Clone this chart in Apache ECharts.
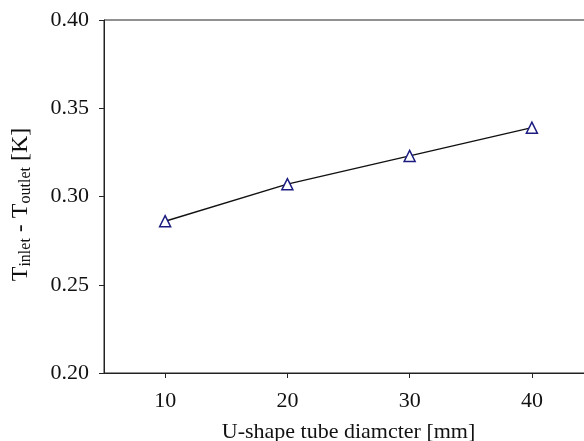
<!DOCTYPE html>
<html>
<head>
<meta charset="utf-8">
<script src="https://cdn.jsdelivr.net/npm/echarts@6/dist/echarts.min.js"></script>
<style>
html,body{margin:0;padding:0;background:#fff;overflow:hidden;}
#chart{width:584px;height:441px;}
</style>
</head>
<body>
<div id="chart"></div>
<script>
var diameters = [10, 20, 30, 40];
var deltaT = [0.286, 0.307, 0.323, 0.339];
var xTickValues = [10, 20, 30, 40];
var yTickValues = [0.20, 0.25, 0.30, 0.35, 0.40];

var FONT = '"Liberation Serif", "Times New Roman", serif';
var chart = echarts.init(document.getElementById('chart'), null, {renderer: 'canvas'});
var option = {
  backgroundColor: '#fff',
  animation: false,
  grid: {
    left: 104, top: 20, width: 489, bottom: 68,
    containLabel: false, outerBoundsMode: 'none',
    show: true, borderColor: '#222', borderWidth: 1
  },
  xAxis: {
    type: 'value', min: 5, max: 45,
    name: 'U-shape tube diamcter [mm]',
    nameLocation: 'middle', nameGap: 48,
    nameTextStyle: {fontFamily: FONT, fontSize: 22, color: '#111'},
    axisLine: {show: true, onZero: false, lineStyle: {color: '#222', width: 1}},
    axisTick: {show: true, inside: false, length: 5, customValues: xTickValues, lineStyle: {color: '#222'}},
    axisLabel: {customValues: xTickValues, margin: 17, fontFamily: FONT, fontSize: 22, color: '#111'},
    splitLine: {show: false}
  },
  yAxis: {
    type: 'value', min: 0.20, max: 0.40, interval: 0.05,
    name: '{t|T}{sub|inlet}{t| - T}{sub|outlet}{t| [K]}',
    nameLocation: 'middle', nameGap: 70, nameRotate: 90,
    nameTextStyle: {
      fontFamily: FONT, fontSize: 24, color: '#111', padding: [0, 16, 0, 0],
      rich: {
        t: {fontFamily: FONT, fontSize: 24, color: '#111'},
        sub: {fontFamily: FONT, fontSize: 16, color: '#111', padding: [10, 0, 0, 0]}
      }
    },
    axisLine: {show: true, lineStyle: {color: '#222', width: 1}},
    axisTick: {show: true, inside: false, length: 5, lineStyle: {color: '#222'}},
    axisLabel: {margin: 15, fontFamily: FONT, fontSize: 22, color: '#111',
      formatter: function (v) { return v.toFixed(2); }},
    splitLine: {show: false}
  },
  series: [{
    type: 'line',
    data: diameters.map(function (d, i) { return [d, deltaT[i]]; }),
    symbol: 'triangle', symbolSize: 11,
    lineStyle: {color: '#111', width: 1.4},
    itemStyle: {color: '#fff', borderColor: '#1c1c80', borderWidth: 1.5},
    z: 3
  }]
};
chart.setOption(option);
</script>
</body>
</html>
